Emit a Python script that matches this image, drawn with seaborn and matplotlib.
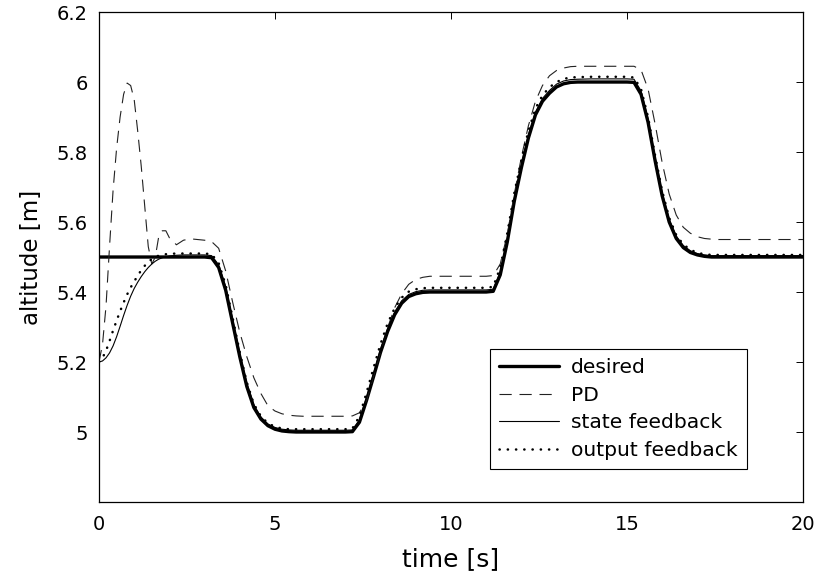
import matplotlib.pyplot as plt
import seaborn as sns

# time grid [s] (denser where the curves move)
time = [0.0, 0.1, 0.2, 0.3, 0.4, 0.5, 0.6, 0.7, 0.8, 0.9, 1.0,
        1.1, 1.2, 1.3, 1.4, 1.5, 1.6, 1.7, 1.8, 1.9, 2.0,
        2.2, 2.4, 2.6, 2.8, 3.0, 3.2, 3.4, 3.6, 3.8, 4.0,
        4.2, 4.4, 4.6, 4.8, 5.0, 5.2, 5.4, 5.6, 5.8, 6.0,
        6.5, 7.0,
        7.2, 7.4, 7.6, 7.8, 8.0, 8.2, 8.4, 8.6, 8.8, 9.0, 9.2, 9.4, 9.6,
        10.0, 10.5, 11.0,
        11.2, 11.4, 11.6, 11.8, 12.0, 12.2, 12.4, 12.6, 12.8, 13.0, 13.2, 13.4, 13.6,
        14.0, 14.5, 15.0,
        15.2, 15.4, 15.6, 15.8, 16.0, 16.2, 16.4, 16.6, 16.8, 17.0, 17.2, 17.4, 17.6,
        18.0, 19.0, 20.0]

desired = [5.5, 5.5, 5.5, 5.5, 5.5, 5.5, 5.5, 5.5, 5.5, 5.5, 5.5,
           5.5, 5.5, 5.5, 5.5, 5.5, 5.5, 5.5, 5.5, 5.5, 5.5,
           5.5, 5.5, 5.5, 5.5, 5.5, 5.498, 5.47, 5.405, 5.31, 5.215,
           5.13, 5.07, 5.037, 5.018, 5.008, 5.003, 5.001, 5.0, 5.0, 5.0,
           5.0, 5.0,
           5.001, 5.028, 5.09, 5.158, 5.228, 5.287, 5.335, 5.368, 5.387, 5.395, 5.399, 5.4, 5.4,
           5.4, 5.4, 5.4,
           5.402, 5.449, 5.543, 5.66, 5.755, 5.84, 5.906, 5.945, 5.968, 5.986, 5.995, 5.999, 6.0,
           6.0, 6.0, 6.0,
           5.999, 5.965, 5.885, 5.775, 5.675, 5.6, 5.553, 5.527, 5.513, 5.506, 5.502, 5.5, 5.5,
           5.5, 5.5, 5.5]

pd_ctrl = [5.2, 5.25, 5.36, 5.53, 5.69, 5.81, 5.9, 5.965, 5.997, 5.99, 5.95,
           5.86, 5.76, 5.645, 5.53, 5.48, 5.5, 5.56, 5.575, 5.575, 5.555,
           5.535, 5.548, 5.552, 5.55, 5.548, 5.544, 5.525, 5.46, 5.37, 5.285,
           5.215, 5.155, 5.11, 5.075, 5.06, 5.052, 5.048, 5.046, 5.045, 5.045,
           5.045, 5.045,
           5.046, 5.055, 5.09, 5.16, 5.23, 5.298, 5.355, 5.395, 5.422, 5.436, 5.442, 5.445, 5.445,
           5.445, 5.445, 5.445,
           5.447, 5.48, 5.565, 5.68, 5.785, 5.875, 5.945, 5.99, 6.018, 6.033, 6.04, 6.044, 6.045,
           6.045, 6.045, 6.045,
           6.045, 6.035, 5.98, 5.88, 5.77, 5.68, 5.62, 5.585, 5.568, 5.558, 5.553, 5.551, 5.55,
           5.55, 5.55, 5.55]

state_fb = [5.2, 5.203, 5.212, 5.226, 5.246, 5.272, 5.302, 5.333, 5.362, 5.388, 5.41,
            5.428, 5.444, 5.458, 5.47, 5.48, 5.488, 5.494, 5.498, 5.501, 5.503,
            5.505, 5.506, 5.506, 5.506, 5.506, 5.504, 5.478, 5.415, 5.32, 5.225,
            5.14, 5.078, 5.043, 5.023, 5.013, 5.008, 5.006, 5.005, 5.005, 5.005,
            5.005, 5.005,
            5.006, 5.035, 5.098, 5.167, 5.237, 5.296, 5.343, 5.375, 5.393, 5.401, 5.405, 5.406, 5.406,
            5.406, 5.406, 5.406,
            5.408, 5.457, 5.552, 5.668, 5.763, 5.848, 5.914, 5.953, 5.976, 5.994, 6.003, 6.007, 6.008,
            6.009, 6.009, 6.009,
            6.008, 5.975, 5.895, 5.785, 5.684, 5.608, 5.56, 5.533, 5.518, 5.51, 5.506, 5.504, 5.504,
            5.504, 5.504, 5.504]

output_fb = [5.2, 5.212, 5.232, 5.26, 5.29, 5.318, 5.345, 5.37, 5.393, 5.413, 5.43,
             5.447, 5.462, 5.475, 5.486, 5.494, 5.5, 5.504, 5.507, 5.508, 5.509,
             5.51, 5.51, 5.51, 5.51, 5.51, 5.508, 5.483, 5.42, 5.325, 5.228,
             5.142, 5.08, 5.045, 5.025, 5.015, 5.01, 5.008, 5.008, 5.008, 5.008,
             5.008, 5.008,
             5.01, 5.045, 5.112, 5.183, 5.252, 5.31, 5.354, 5.384, 5.401, 5.408, 5.411, 5.412, 5.412,
             5.412, 5.412, 5.412,
             5.415, 5.47, 5.568, 5.683, 5.777, 5.86, 5.924, 5.962, 5.985, 6.0, 6.009, 6.013, 6.014,
             6.015, 6.015, 6.015,
             6.013, 5.98, 5.9, 5.79, 5.689, 5.612, 5.563, 5.536, 5.521, 5.512, 5.508, 5.506, 5.506,
             5.506, 5.506, 5.506]

x_ticks = [0, 5, 10, 15, 20]
y_ticks = [5.0, 5.2, 5.4, 5.6, 5.8, 6.0, 6.2]

sns.set_style("white")
plt.rcParams["font.family"] = ["DejaVu Sans"]
plt.rcParams["text.color"] = "black"
plt.rcParams["axes.labelcolor"] = "black"

fig = plt.figure(figsize=(8.16, 5.73), dpi=100)
ax = fig.add_axes([0.1213, 0.1239, 0.8627, 0.8551])

sns.lineplot(x=time, y=desired, ax=ax, color="black", lw=2.4, label="desired")
sns.lineplot(x=time, y=pd_ctrl, ax=ax, color="#222222", lw=0.8,
             linestyle=(0, (11, 7)), label="PD")
sns.lineplot(x=time, y=state_fb, ax=ax, color="black", lw=0.8, label="state feedback")
sns.lineplot(x=time, y=output_fb, ax=ax, color="black", lw=1.8,
             linestyle=(0, (0.1, 3.2)), dash_capstyle="round", label="output feedback")

ax.set_xlim(0, 20)
ax.set_ylim(4.8, 6.2)
ax.set_xticks(x_ticks)
ax.set_yticks(y_ticks)
ax.set_xticklabels([f"{v:g}" for v in x_ticks])
ax.set_yticklabels([f"{v:g}" for v in y_ticks])
ax.tick_params(direction="in", length=5, width=0.7, top=True, right=True,
               labelsize=14, colors="black")
ax.tick_params(axis="y", pad=8)
ax.tick_params(axis="x", pad=9)
for s in ax.spines.values():
    s.set_visible(True)
    s.set_color("black")
    s.set_linewidth(0.9)

ax.set_xlabel("time [s]", fontsize=18, labelpad=10)
ax.set_ylabel("altitude [m]", fontsize=16.5, labelpad=10)

leg = ax.legend(loc="upper left", bbox_to_anchor=(0.555, 0.312), fontsize=14.6,
                frameon=True, fancybox=False, edgecolor="black", framealpha=1,
                handlelength=2.95, handletextpad=0.6, labelspacing=0.42,
                borderpad=0.45, borderaxespad=0)
leg.get_frame().set_linewidth(0.8)
for t in leg.get_texts():
    t.set_color("black")

fig.savefig("out.png", dpi=100)
